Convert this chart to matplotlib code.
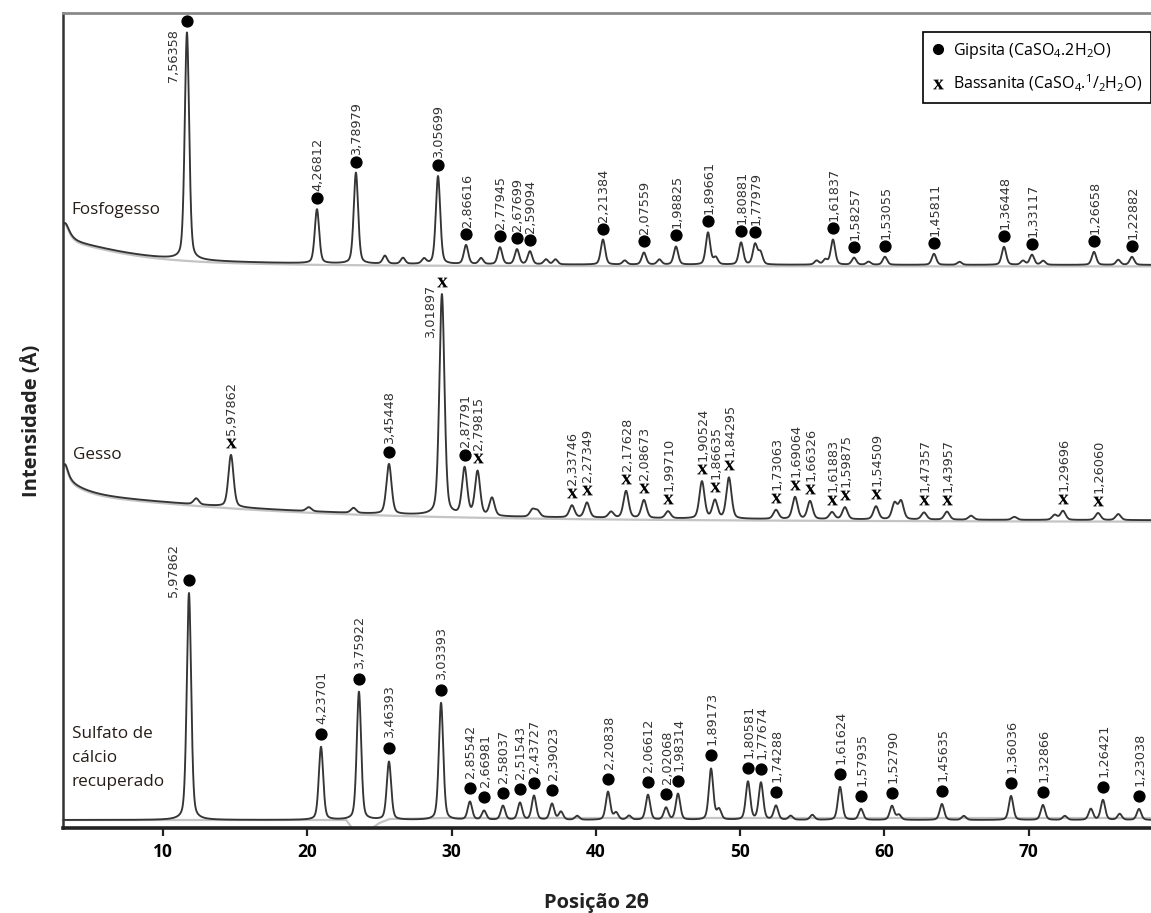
import numpy as np
import matplotlib
matplotlib.use('Agg')
import matplotlib.pyplot as plt
from matplotlib.lines import Line2D
from matplotlib import transforms

plt.rcParams['font.family'] = ['Open Sans', 'DejaVu Sans']
plt.rcParams['mathtext.fontset'] = 'custom'
plt.rcParams['mathtext.rm'] = 'Open Sans'
plt.rcParams['mathtext.it'] = 'Open Sans:italic'
plt.rcParams['mathtext.bf'] = 'Liberation Serif:bold'

# ---------------- data (2theta in degrees, intensity in arbitrary units) ----------------
x_range = (3.07, 78.47)
x_ticks = [10, 20, 30, 40, 50, 60, 70]

# Fosfogesso
fos_offset = 563
fos_pos = [11.66, 20.67, 23.37, 29.06, 31.00, 33.35, 34.53, 35.43, 40.49, 43.33, 45.55,
           47.77, 50.06, 51.03, 56.43, 57.89, 60.03, 63.43, 68.28, 70.22, 74.52, 77.15]
fos_int = [227, 54, 91, 88, 19, 17, 15, 13, 25, 12, 18, 32, 22, 20, 25, 7, 8, 11, 18, 10, 13, 8]
fos_lbl = ['7,56358', '4,26812', '3,78979', '3,05699', '2,86616', '2,77945', '2,67699',
           '2,59094', '2,21384', '2,07559', '1,98825', '1,89661', '1,80881', '1,77979',
           '1,61837', '1,58257', '1,53055', '1,45811', '1,36448', '1,33117', '1,26658', '1,22882']
fos_phase = ['G'] * 22
fos_minor_pos = [25.38, 26.63, 28.09, 32.04, 36.54, 37.2, 42.0, 44.4, 48.3, 51.4, 55.3, 55.9,
                 58.9, 65.2, 69.6, 71.0, 76.2]
fos_minor_int = [8, 6, 5, 6, 5, 5, 4, 5, 7, 12, 4, 5, 3, 3, 4, 4, 5]
fos_bg_pos = [3.2, 3.0]
fos_bg_int = [20, 22]
fos_bg_fwhm = [0.8, 10.0]

# Gesso
ges_offset = 307
ges_pos = [14.71, 25.66, 29.33, 30.90, 31.80, 38.34, 39.38, 42.09, 43.33, 45.00, 47.35,
           48.25, 49.22, 52.48, 53.80, 54.84, 56.36, 57.26, 59.41, 62.74, 64.33, 72.37, 74.80]
ges_int = [52, 50, 221, 47, 44, 12, 15, 27, 18, 7, 37, 18, 41, 9, 22, 18, 7, 12, 13, 7, 8, 9, 7]
ges_lbl = ['5,97862', '3,45448', '3,01897', '2,87791', '2,79815', '2,33746', '2,27349',
           '2,17628', '2,08673', '1,99710', '1,90524', '1,86635', '1,84295', '1,73063',
           '1,69064', '1,66326', '1,61883', '1,59875', '1,54509', '1,47357', '1,43957',
           '1,29696', '1,26060']
ges_phase = ['B', 'G', 'B', 'G', 'B'] + ['B'] * 18
ges_minor_pos = [12.3, 20.1, 23.2, 32.8, 35.6, 35.95, 41.05, 60.7, 61.15, 66.0, 69.0, 71.8, 76.2]
ges_minor_int = [6, 4, 5, 18, 7, 6, 6, 16, 18, 4, 3, 5, 6]
ges_bg_pos = [3.2, 3.0, 3.0]
ges_bg_int = [20, 15, 22]
ges_bg_fwhm = [0.6, 4.0, 30.0]

# Sulfato de calcio recuperado
sul_offset = 8
sul_pos = [11.80, 20.95, 23.58, 25.66, 29.27, 31.27, 32.25, 33.56, 34.74, 35.71, 36.96,
           40.84, 43.61, 44.86, 45.69, 47.98, 50.54, 51.44, 52.48, 56.92, 58.37, 60.52,
           63.98, 68.77, 70.98, 75.14, 77.64]
sul_int = [227, 73, 128, 58, 117, 18, 9, 14, 17, 24, 16, 28, 25, 12, 26, 51, 38, 37, 14,
           33, 11, 14, 16, 24, 15, 20, 11]
sul_lbl = ['5,97862', '4,23701', '3,75922', '3,46393', '3,03393', '2,85542', '2,66981',
           '2,58037', '2,51543', '2,43727', '2,39023', '2,20838', '2,06612', '2,02068',
           '1,98314', '1,89173', '1,80581', '1,77674', '1,74288', '1,61624', '1,57935',
           '1,52790', '1,45635', '1,36036', '1,32866', '1,26421', '1,23038']
sul_phase = ['G'] * 27
sul_minor_pos = [37.58, 38.7, 41.4, 42.3, 48.53, 53.5, 55.0, 61.0, 65.5, 72.5, 74.3, 76.3]
sul_minor_int = [8, 4, 7, 4, 10, 4, 5, 5, 4, 4, 11, 6]
sul_bg_pos = []
sul_bg_int = []
sul_bg_fwhm = []
sul_bgline_x = [3.07, 21.8, 22.7, 23.1, 24.5, 25.0, 25.7, 29.5, 78.47]
sul_bgline_y = [8, 8, 8, 0, 0, 5, 9, 10, 10]

trace_names = ['Fosfogesso', 'Gesso', 'Sulfato de\ncálcio\nrecuperado']
legend_labels = ['Gipsita (CaSO$_4$.2H$_2$O)', 'Bassanita (CaSO$_4$.$^1$/$_2$H$_2$O)']

# ---------------- model helpers ----------------
def pseudo_voigt(x, centre, height, fwhm, eta):
    d = (x - centre) / fwhm
    return height * (eta / (1 + 4 * d ** 2) + (1 - eta) * np.exp(-4 * np.log(2) * d ** 2))


def pattern(x, offset, pos, ints, fwhm, eta, bg_pos, bg_int, bg_fwhm):
    x = np.asarray(x, dtype=float)
    y = np.full_like(x, float(offset))
    for c, h in zip(pos, ints):
        y = y + pseudo_voigt(x, c, h, fwhm, eta)
    for c, h, w in zip(bg_pos, bg_int, bg_fwhm):
        y = y + pseudo_voigt(x, c, h, w, 1.0)
    return y


# ---------------- figure ----------------
W, H = 1151, 913
fig = plt.figure(figsize=(W / 100, H / 100), dpi=100)
ax_left, ax_right, ax_top, ax_bottom = 63, 1151, 13, 828
ax = fig.add_axes([ax_left / W, (H - ax_bottom) / H, (ax_right - ax_left) / W, (ax_bottom - ax_top) / H])
ax.set_xlim(*x_range)
ax.set_ylim(0, ax_bottom - ax_top)

theta = np.arange(x_range[0], x_range[1], 0.01)

traces = [
    dict(offset=fos_offset, pos=fos_pos, ints=fos_int, lbl=fos_lbl, phase=fos_phase,
         mpos=fos_minor_pos, mint=fos_minor_int, bgp=fos_bg_pos, bgi=fos_bg_int, bgw=fos_bg_fwhm,
         fwhm=0.36, eta=0.35, moff=11, loff=18, left=0, ldx=-13, ldy=3),
    dict(offset=ges_offset, pos=ges_pos, ints=ges_int, lbl=ges_lbl, phase=ges_phase,
         mpos=ges_minor_pos, mint=ges_minor_int, bgp=ges_bg_pos, bgi=ges_bg_int, bgw=ges_bg_fwhm,
         fwhm=0.42, eta=0.35, moff=12, loff=20, left=2, ldx=-11, ldy=9),
    dict(offset=sul_offset, pos=sul_pos, ints=sul_int, lbl=sul_lbl, phase=sul_phase,
         mpos=sul_minor_pos, mint=sul_minor_int, bgp=sul_bg_pos, bgi=sul_bg_int, bgw=sul_bg_fwhm,
         fwhm=0.36, eta=0.35, moff=13, loff=23, left=0, ldx=-15, ldy=49),
]

line_color = '#353535'
label_color = '#333333'
x_marker = r'$\mathbf{x}$'
for i, t in enumerate(traces):
    allpos = list(t['pos']) + list(t['mpos'])
    allint = list(t['ints']) + list(t['mint'])
    y = pattern(theta, t['offset'], allpos, allint, t['fwhm'], t['eta'], t['bgp'], t['bgi'], t['bgw'])
    # background (grey)
    if i < 2:
        bg = pattern(theta, t['offset'] - 1.5, [], [], t['fwhm'], t['eta'], t['bgp'], t['bgi'], t['bgw'])
        ax.plot(theta, bg, color='#c4c4c4', lw=1.6, zorder=1)
    else:
        ax.plot(sul_bgline_x, sul_bgline_y, color='#c4c4c4', lw=1.6, zorder=1, clip_on=False)
    ax.plot(theta, y, color=line_color, lw=1.35, zorder=2)

    ypk = pattern(t['pos'], t['offset'], allpos, allint, t['fwhm'], t['eta'], t['bgp'], t['bgi'], t['bgw'])
    moff = transforms.offset_copy(ax.transData, fig=fig, x=0, y=t['moff'], units='dots')
    for j, (xp, yp, lab, ph) in enumerate(zip(t['pos'], ypk, t['lbl'], t['phase'])):
        if ph == 'G':
            ax.plot([xp], [yp], marker='o', ms=7.8, color='black', mec='black', transform=moff,
                    linestyle='none', zorder=4)
        else:
            ax.plot([xp], [yp], marker=x_marker, ms=7.5, color='black', mew=0, transform=moff,
                    linestyle='none', zorder=4)
        if j == t['left']:
            ax.annotate(lab, xy=(xp, yp), xytext=(t['ldx'], t['ldy']), textcoords='offset pixels',
                        rotation=90, ha='center', va='top', fontsize=9.3,
                        family='DejaVu Sans', color=label_color, zorder=5)
        else:
            ax.annotate(lab, xy=(xp, yp), xytext=(1, t['loff']), textcoords='offset pixels',
                        rotation=90, ha='center', va='bottom', fontsize=9.3,
                        family='DejaVu Sans', color=label_color, zorder=5)

# trace names
name_pos = [(0.008, 0.758), (0.009, 0.458), (0.008, 0.086)]
for name, (nx, ny) in zip(trace_names, name_pos):
    ax.text(nx, ny, name, transform=ax.transAxes, ha='left', va='center', fontsize=12.3,
            color='#241d17', linespacing=1.7)

# axes styling
ax.set_yticks([])
ax.set_xticks(x_ticks)
ax.set_xticklabels([str(v) for v in x_ticks], fontsize=12.5, fontweight='bold')
ax.tick_params(axis='x', direction='out', length=6, width=1.6, color='#222222', pad=5)
ax.spines['right'].set_visible(False)
ax.spines['top'].set_color('#8a8a8a')
ax.spines['top'].set_linewidth(2.0)
ax.spines['left'].set_color('#333333')
ax.spines['left'].set_linewidth(1.8)
ax.spines['bottom'].set_color('#222222')
ax.spines['bottom'].set_linewidth(2.6)

ax.set_xlabel('Posição 2θ', fontsize=14.5, fontweight='bold', color='#222222')
ax.xaxis.set_label_coords(0.49, -0.08)
ax.set_ylabel('Intensidade (Å)', fontsize=14.5, fontweight='bold', color='#222222')
ax.yaxis.set_label_coords(-0.019, 0.5)

# legend
handles = [Line2D([], [], marker='o', ms=7, color='black', linestyle='none'),
           Line2D([], [], marker=x_marker, ms=7.5, mew=0, color='black', linestyle='none')]
leg = ax.legend(handles, legend_labels, loc='upper right', bbox_to_anchor=(1.0, 1 - 19 / 815),
                borderaxespad=0, fancybox=False, edgecolor='black', framealpha=1,
                fontsize=11.5, handlelength=0.7, handletextpad=0.6, labelspacing=0.75,
                borderpad=0.55)
leg.get_frame().set_linewidth(1.2)

fig.savefig('out.png', dpi=100)
